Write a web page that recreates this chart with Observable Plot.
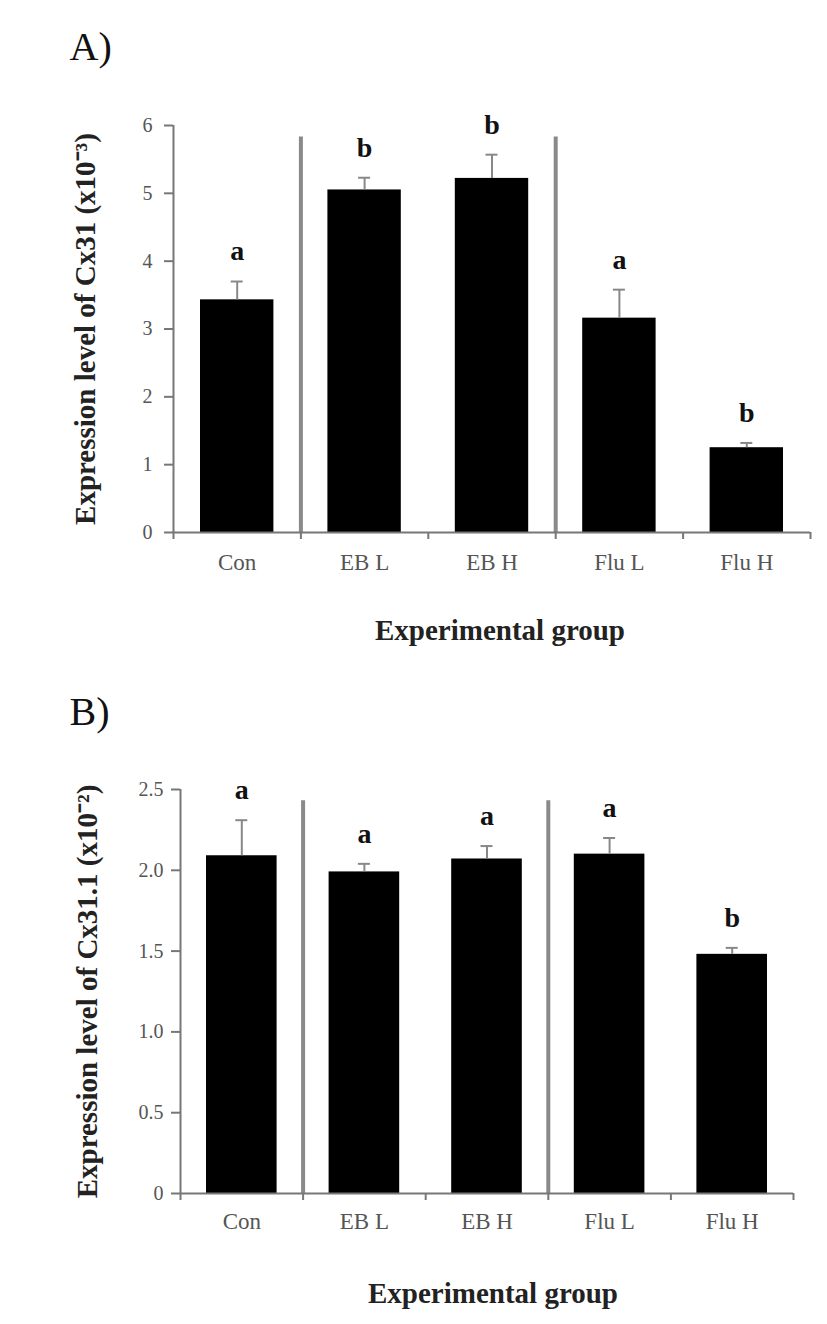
<!DOCTYPE html>
<html>
<head>
<meta charset="utf-8">
<script src="https://cdn.jsdelivr.net/npm/d3@7"></script>
<script src="https://cdn.jsdelivr.net/npm/@observablehq/plot@0.6"></script>
<style>
  html, body { margin: 0; padding: 0; background: #fff; }
  #chart svg { display: block; }
</style>
</head>
<body>
<div id="chart"></div>
<script>
// ---- data ----
const groups = ["Con", "EB L", "EB H", "Flu L", "Flu H"];
const separatorsAfter = ["Con", "EB H"];

const cx31Mean = [3.43, 5.05, 5.22, 3.16, 1.25];
const cx31Err = [0.27, 0.18, 0.35, 0.42, 0.07];
const cx31Letters = ["a", "b", "b", "a", "b"];
const cx31Ticks = [0, 1, 2, 3, 4, 5, 6];
const cx31TickLabels = ["0", "1", "2", "3", "4", "5", "6"];

const cx311Mean = [2.09, 1.99, 2.07, 2.10, 1.48];
const cx311Err = [0.22, 0.05, 0.08, 0.10, 0.04];
const cx311Letters = ["a", "a", "a", "a", "b"];
const cx311Ticks = [0, 0.5, 1, 1.5, 2, 2.5];
const cx311TickLabels = ["0", "0.5", "1.0", "1.5", "2.0", "2.5"];

const xTitle = "Experimental group";

function panel(o) {
  const n = groups.length;
  const data = groups.map((g, i) => ({g, i, mean: o.means[i], err: o.errs[i], letter: o.letters[i]}));
  const seps = separatorsAfter.map(g => groups.indexOf(g) + 1);
  const step = (827 - o.ml - o.mr) / n;
  const cap = 6 / step;
  const tickLabel = new Map(o.ticks.map((t, i) => [t, o.tickLabels[i]]));
  const svg = Plot.plot({
    width: 827,
    height: o.height,
    marginLeft: o.ml, marginRight: o.mr, marginTop: o.mt, marginBottom: o.mb,
    x: {type: "linear", domain: [0, n], axis: null, label: null},
    y: {domain: o.yDomain, axis: null, label: null},
    style: {fontFamily: "Liberation Serif", background: "#fff", color: "#555"},
    marks: [
      Plot.ruleX(seps, {y1: 0, y2: o.sepTop, stroke: "#8a8a8a", strokeWidth: 4}),
      Plot.rect(data, {x1: "i", x2: d => d.i + 1, y1: 0, y2: "mean", insetLeft: o.inset, insetRight: o.inset, fill: "#000"}),
      Plot.ruleX(data, {x: d => d.i + 0.5, y1: "mean", y2: d => d.mean + d.err, stroke: "#888", strokeWidth: 2}),
      Plot.ruleY(data, {y: d => d.mean + d.err, x1: d => d.i + 0.5 - cap, x2: d => d.i + 0.5 + cap, stroke: "#888", strokeWidth: 2}),
      Plot.ruleX([0], {stroke: "#777", strokeWidth: 2}),
      Plot.ruleY([0], {stroke: "#777", strokeWidth: 2}),
      Plot.axisY({ticks: o.ticks, tickFormat: d => tickLabel.get(d), tickSize: 9, tickPadding: o.tickPad,
        fontSize: 20, fill: "#555", stroke: "#777", strokeWidth: 2, label: null}),
      Plot.axisX({ticks: d3.range(0, n + 1), tickFormat: () => "", tickSize: 7, stroke: "#777", strokeWidth: 2, label: null}),
      Plot.axisX({ticks: groups.map((g, i) => i + 0.5), tickFormat: d => groups[Math.floor(d)], tickSize: 0,
        tickPadding: o.xPad, fontSize: 23, fill: "#555", label: null}),
      Plot.text(data, {x: d => d.i + 0.5, y: d => d.mean + d.err, text: "letter", dy: -30,
        fontSize: 28, fontWeight: "bold", fill: "#111", lineAnchor: "middle"}),
      Plot.text([o.ylabel], {text: d => d, frameAnchor: "left", dx: o.yLabelDx, rotate: -90,
        fontSize: 29, fontWeight: "bold", fill: "#222", textAnchor: "middle", lineAnchor: "middle"}),
      Plot.text([xTitle], {text: d => d, frameAnchor: "bottom", dx: o.xLabelDx, dy: o.xLabelDy,
        fontSize: 29, fontWeight: "bold", fill: "#222", lineAnchor: "middle"}),
      Plot.text([o.panelLabel], {text: d => d, frameAnchor: "top-left", dx: o.pdx, dy: o.pdy,
        fontSize: 40, fill: "#111", textAnchor: "start", lineAnchor: "middle"})
    ]
  });
  return svg;
}

const chart = document.getElementById("chart");
chart.append(panel({
  means: cx31Mean, errs: cx31Err, letters: cx31Letters,
  yDomain: [0, 6], ticks: cx31Ticks, tickLabels: cx31TickLabels, sepTop: 5.83,
  height: 660, ml: 173, mr: 17, mt: 125, mb: 128, inset: 27, tickPad: 12, xPad: 21,
  ylabel: "Expression level of Cx31 (x10⁻³)", yLabelDx: -88, xLabelDx: 8, xLabelDy: 98,
  panelLabel: "A)", pdx: -104, pdy: -78
}));
chart.append(panel({
  means: cx311Mean, errs: cx311Err, letters: cx311Letters,
  yDomain: [0, 2.5], ticks: cx311Ticks, tickLabels: cx311TickLabels, sepTop: 2.43,
  height: 664, ml: 180, mr: 34, mt: 129, mb: 131, inset: 26, tickPad: 8, xPad: 19,
  ylabel: "Expression level of Cx31.1 (x10⁻²)", yLabelDx: -93, xLabelDx: 6, xLabelDy: 100,
  panelLabel: "B)", pdx: -111, pdy: -77
}));
</script>
</body>
</html>
